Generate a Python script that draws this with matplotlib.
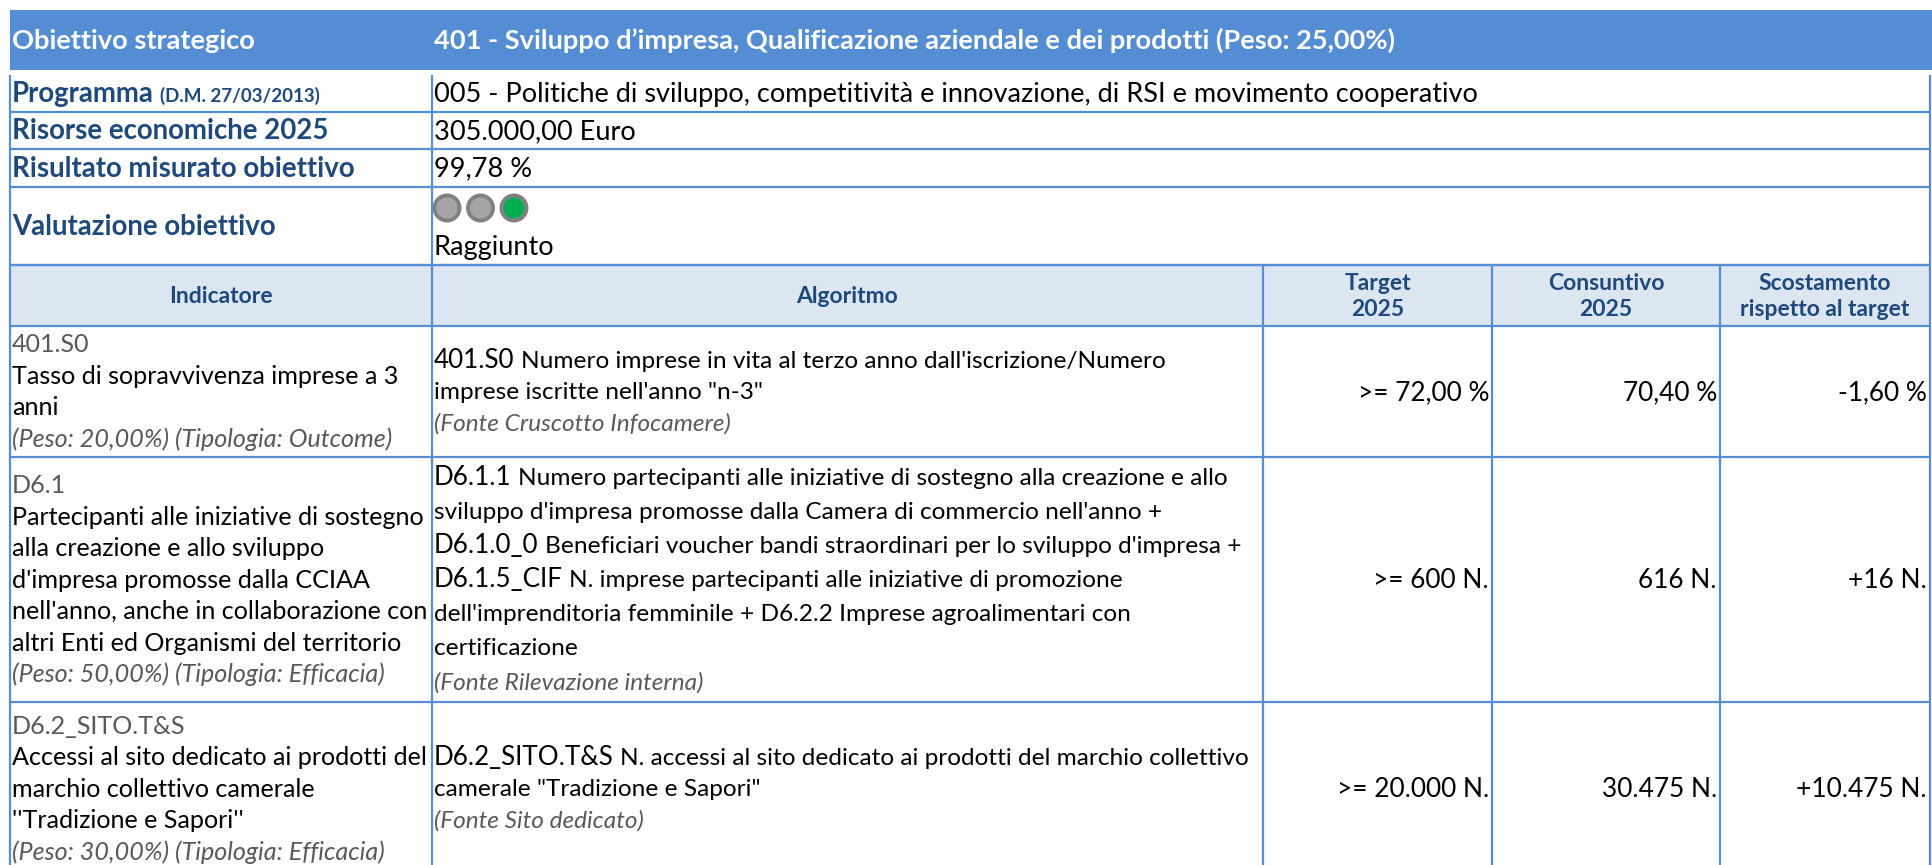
import matplotlib.pyplot as plt
from matplotlib.patches import Rectangle, Circle

plt.rcParams['font.family'] = ['Lato', 'DejaVu Sans']

# --- table content ---
band_label = "Obiettivo strategico"
band_value = "401 - Sviluppo d\u2019impresa, Qualificazione aziendale e dei prodotti (Peso: 25,00%)"

info_labels = ["Programma", "Risorse economiche 2025", "Risultato misurato obiettivo", "Valutazione obiettivo"]
programma_note = "(D.M. 27/03/2013)"
info_values = ["005 - Politiche di sviluppo, competitivit\u00e0 e innovazione, di RSI e movimento cooperativo",
               "305.000,00 Euro", "99,78 %"]
lights_on = [False, False, True]
valutazione = "Raggiunto"

col_headers = ["Indicatore", "Algoritmo", "Target\n2025", "Consuntivo\n2025", "Scostamento\nrispetto al target"]

ind_codes = ["401.S0", "D6.1", "D6.2_SITO.T&S"]
ind_names = [
    ["Tasso di sopravvivenza imprese a 3", "anni"],
    ["Partecipanti alle iniziative di sostegno", "alla creazione e allo sviluppo",
     "d'impresa promosse dalla CCIAA", "nell'anno, anche in collaborazione con",
     "altri Enti ed Organismi del territorio"],
    ["Accessi al sito dedicato ai prodotti del", "marchio collettivo camerale", "''Tradizione e Sapori''"],
]
ind_meta = ["(Peso: 20,00%) (Tipologia: Outcome)",
            "(Peso: 50,00%) (Tipologia: Efficacia)",
            "(Peso: 30,00%) (Tipologia: Efficacia)"]

# algorithm lines: (code prefix, rest of line)
algo_lines = [
    [("401.S0", "Numero imprese in vita al terzo anno dall'iscrizione/Numero"),
     ("", "imprese iscritte nell'anno \"n-3\"")],
    [("D6.1.1", "Numero partecipanti alle iniziative di sostegno alla creazione e allo"),
     ("", "sviluppo d'impresa promosse dalla Camera di commercio nell'anno +"),
     ("D6.1.0_0", "Beneficiari voucher bandi straordinari per lo sviluppo d'impresa +"),
     ("D6.1.5_CIF", "N. imprese partecipanti alle iniziative di promozione"),
     ("", "dell'imprenditoria femminile + D6.2.2 Imprese agroalimentari con"),
     ("", "certificazione")],
    [("D6.2_SITO.T&S", "N. accessi al sito dedicato ai prodotti del marchio collettivo"),
     ("", "camerale \"Tradizione e Sapori\"")],
]
fonte = ["(Fonte Cruscotto Infocamere)", "(Fonte Rilevazione interna)", "(Fonte Sito dedicato)"]

targets = [">= 72,00 %", ">= 600 N.", ">= 20.000 N."]
consuntivi = ["70,40 %", "616 N.", "30.475 N."]
scostamenti = ["-1,60 %", "+16 N.", "+10.475 N."]

# --- layout ---
W, H = 1932, 865
BAND = '#548DD4'
LINE = '#558ED5'
HEAD_FILL = '#DCE6F1'
NAVY = '#1F497D'
GRAY = '#595959'

col_x = [10, 432, 1263, 1492, 1720, 1930]
info_y = [75, 112, 149, 187, 265]
head_y = [265, 326]
row_y = [326, 457, 702, 875]
left_gap = 31.5
algo_gap = [31.5, 34, 31.5]

fig = plt.figure(figsize=(W / 100, H / 100), dpi=100)
ax = fig.add_axes([0, 0, 1, 1])
ax.set_xlim(0, W)
ax.set_ylim(H, 0)
ax.axis('off')
renderer = fig.canvas.get_renderer()


def text_width(txt, size, **kw):
    t = ax.text(0, 0, txt, fontsize=size, **kw)
    w = t.get_window_extent(renderer).width
    t.remove()
    return w


def fit(txt, width, **kw):
    return 10 * width / text_width(txt, 10, **kw)


def base(yc, size):
    # baseline position for a line whose visual centre is yc
    return yc + 0.32 * size * 100 / 72


fs_band = fit(band_value, 965, weight='bold')
fs_label = fit(info_labels[2], 343, weight='bold')
fs_note = fit(programma_note, 160, weight='bold')
fs_value = fit(info_values[0], 1044)
fs_head = fit("rispetto al target", 170, weight='bold')
fs_body = fit(ind_names[1][0], 413)
fs_algo = fs_body * 0.97
fs_code = fs_algo * 1.07
fs_num = fit(targets[0], 131)

# top band
ax.add_patch(Rectangle((10, 10), W - 10, 60, color=BAND, lw=0))
ax.text(12, base(40, fs_band), band_label, fontsize=fs_band, weight='bold', color='white', va='baseline')
ax.text(434, base(40, fs_band), band_value, fontsize=fs_band, weight='bold', color='white', va='baseline')

# info rows
for i, lab in enumerate(info_labels):
    yc = (info_y[i] + info_y[i + 1]) / 2
    t = ax.text(12, base(yc, fs_label), lab, fontsize=fs_label, weight='bold', color=NAVY, va='baseline')
    if i == 0:
        x2 = 12 + t.get_window_extent(renderer).width + 6
        ax.text(x2, base(yc, fs_label), programma_note, fontsize=fs_note, weight='bold', color=NAVY, va='baseline')
    if i < len(info_values):
        ax.text(434, base(yc, fs_value), info_values[i], fontsize=fs_value, va='baseline')

top = info_y[3]
for k, on in enumerate(lights_on):
    ax.add_patch(Circle((447 + k * 33.5, top + 21), 12.5, facecolor='#00B050' if on else '#A6A6A6',
                        edgecolor='#808080', lw=2.8))
ax.text(434, base(top + 59, fs_value), valutazione, fontsize=fs_value, va='baseline')

ax.vlines([col_x[0], col_x[1], col_x[-1]], info_y[0], info_y[-1], color=LINE, lw=1.6)
ax.hlines(info_y[1:], col_x[0], col_x[-1], color=LINE, lw=1.6)

# column header
ax.add_patch(Rectangle((col_x[0], head_y[0]), col_x[-1] - col_x[0], head_y[1] - head_y[0], color=HEAD_FILL, lw=0))
for j, h in enumerate(col_headers):
    xc = (col_x[j] + col_x[j + 1]) / 2
    ax.text(xc, (head_y[0] + head_y[1]) / 2 + 1, h, fontsize=fs_head, weight='bold', color=NAVY,
            ha='center', va='center', multialignment='center', linespacing=1.25)

# indicator rows
for i in range(len(ind_codes)):
    y0, y1 = row_y[i], row_y[i + 1]
    yc = (y0 + y1) / 2

    left = [(ind_codes[i], GRAY, 'normal')] + [(s, 'black', 'normal') for s in ind_names[i]] + \
           [(ind_meta[i], GRAY, 'italic')]
    n = len(left)
    for k, (s, c, st) in enumerate(left):
        ly = yc + (k - (n - 1) / 2) * left_gap
        ax.text(12, base(ly, fs_body), s, fontsize=fs_body, color=c, style=st, va='baseline')

    right = algo_lines[i] + [None]
    n = len(right)
    g = algo_gap[i]
    for k, item in enumerate(right):
        ly = yc + (k - (n - 1) / 2) * g
        if item is None:
            ax.text(434, base(ly, fs_algo), fonte[i], fontsize=fs_algo, color=GRAY, style='italic', va='baseline')
            continue
        code, rest = item
        x = 434
        if code:
            ax.text(x, base(ly, fs_algo), code, fontsize=fs_code, va='baseline')
            x += text_width(code, fs_code) + text_width("x x", fs_algo) - text_width("xx", fs_algo)
        ax.text(x, base(ly, fs_algo), rest, fontsize=fs_algo, va='baseline')

    for j, vals in enumerate([targets, consuntivi, scostamenti]):
        ax.text(col_x[j + 3] - 3, base(yc, fs_num), vals[i], fontsize=fs_num, ha='right', va='baseline')

ax.vlines(col_x, head_y[0], H, color=LINE, lw=1.6)
ax.hlines(head_y + row_y[1:3], col_x[0], col_x[-1], color=LINE, lw=1.6)

fig.savefig('out.png', dpi=100)
